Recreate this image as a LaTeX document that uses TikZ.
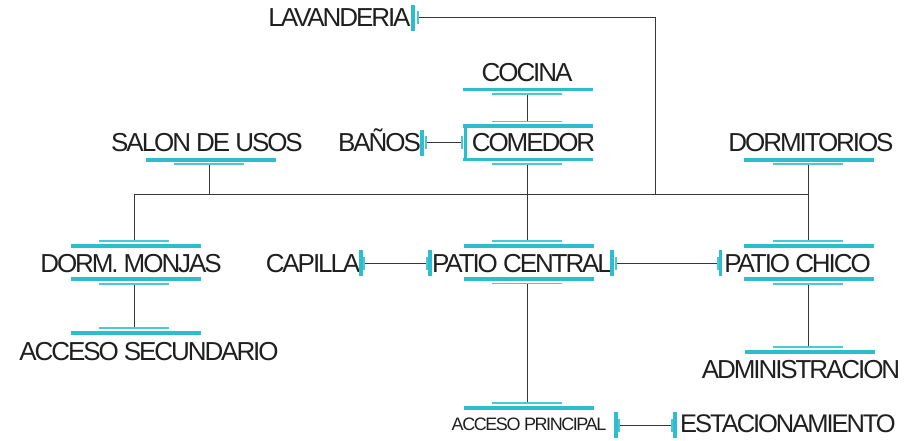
\documentclass[tikz,border=0pt]{standalone}
\usepackage{fontspec}
\setmainfont{Liberation Sans}
\newfontfamily\planfont{Liberation Sans}[LetterSpace=-8]
\usetikzlibrary{positioning}
\definecolor{planCyan}{RGB}{45,190,205}
\definecolor{planLine}{RGB}{55,55,55}
\tikzstyle{room} = [font=\planfont\fontsize{26}{26}\selectfont, text=black!88, inner sep=0, anchor=base]
\tikzstyle{wideBar} = [fill=planCyan, inner sep=0, minimum width=130pt, minimum height=3.3pt]
\tikzstyle{narrowBar} = [fill=planCyan!85, inner sep=0, minimum width=70pt, minimum height=1.5pt]
\tikzstyle{tallBar} = [fill=planCyan, inner sep=0, minimum width=3.3pt, minimum height=26pt]
\tikzstyle{shortBar} = [fill=planCyan!85, inner sep=0, minimum width=1.5pt, minimum height=13pt]
\tikzstyle{link} = [draw=planLine, line width=1pt]

\begin{document}
\begin{tikzpicture}[x=1pt, y=-1pt]
        \useasboundingbox[fill=white] (0,0) rectangle (911,441);
        % Rooms
        \node [room] (lav) at (339.5,27) {LAVANDERIA};
        \node [room] (coc) at (527,82) {COCINA};
        \node [room] (com) at (533.5,152) {COMEDOR};
        \node [room] (ban) at (379.5,152) {BAÑOS};
        \node [room] (sal) at (207,152) {SALON DE USOS};
        \node [room] (dor) at (811,152) {DORMITORIOS};
        \node [room] (dmj) at (131,272) {DORM. MONJAS};
        \node [room] (cap) at (313,272) {CAPILLA};
        \node [room] (pce) at (522,272) {PATIO CENTRAL};
        \node [room] (pch) at (797.5,272) {PATIO CHICO};
        \node [room] (acs) at (149,360) {ACCESO SECUNDARIO};
        \node [room] (adm) at (801,378) {ADMINISTRACION};
        \node [room, font=\planfont\fontsize{18}{18}\selectfont] (acp) at (529,430) {ACCESO PRINCIPAL};
        \node [room, font=\planfont\fontsize{25.5}{25.5}\selectfont] (est) at (788,432) {ESTACIONAMIENTO};

        % Bars
        \node [tallBar] (lavR) at (413,18.5) {};
        \node [shortBar] (lavr) at (418,17.5) {};
        \node [wideBar] (cocB) at (528,89.3) {};
        \node [narrowBar] (cocb) at (527,94) {};
        \node [narrowBar] (comt) at (527,121.7) {};
        \node [wideBar] (comT) at (528,126) {};
        \node [wideBar] (comB) at (528,159.5) {};
        \node [narrowBar] (comb) at (527,164) {};
        \node [tallBar, minimum height=34pt] (comL) at (465.5,142.7) {};
        \node [shortBar] (coml) at (462,143) {};
        \node [tallBar] (banR) at (422,143) {};
        \node [shortBar] (banr) at (426,143) {};
        \node [wideBar] (salB) at (211,160) {};
        \node [narrowBar] (salb) at (209,164) {};
        \node [wideBar] (dorB) at (809,160) {};
        \node [narrowBar] (dorb) at (808,164) {};
        \node [narrowBar] (dmt) at (134,241) {};
        \node [wideBar] (dmT) at (136,246) {};
        \node [wideBar] (dmB) at (136,279) {};
        \node [narrowBar] (dmb) at (134,284) {};
        \node [narrowBar] (ast) at (134,328) {};
        \node [wideBar] (asT) at (136,333) {};
        \node [narrowBar] (pct) at (527,241) {};
        \node [wideBar] (pcT) at (529,246) {};
        \node [wideBar] (pcB) at (529,279) {};
        \node [narrowBar] (pcb) at (527,283.5) {};
        \node [shortBar] (pcl) at (427,263) {};
        \node [tallBar] (pcL) at (430,262.5) {};
        \node [tallBar] (pcR) at (612,262.5) {};
        \node [shortBar] (pcr) at (616,263) {};
        \node [tallBar] (capR) at (361,262.5) {};
        \node [shortBar] (capr) at (364,263) {};
        \node [narrowBar] (pht) at (808,241) {};
        \node [wideBar] (phT) at (809,246) {};
        \node [wideBar] (phB) at (809,279) {};
        \node [narrowBar] (phb) at (808,284) {};
        \node [shortBar] (phl) at (718,263) {};
        \node [tallBar] (phL) at (720.5,262.5) {};
        \node [narrowBar] (adt) at (808,347) {};
        \node [wideBar] (adT) at (809.5,352) {};
        \node [narrowBar] (apt) at (527,403) {};
        \node [wideBar] (apT) at (529,408) {};
        \node [tallBar] (apR) at (616,425) {};
        \node [shortBar] (apr) at (619,425) {};
        \node [shortBar] (esl) at (672,425) {};
        \node [tallBar] (esL) at (675,425) {};

        % Bus
        \coordinate (busW) at (133,195);
        \coordinate (busE) at (808,195);
        \coordinate (lavDrop) at (655,195);

        % Lines
        \draw [link] (lavr.east) -| (lavDrop);
        \draw [link] (dmt.north) |- (busE);
        \draw [link] (salb.south) -- (salb.south |- busW);
        \draw [link] (cocb.south) -- (comt.north);
        \draw [link] (comb.south) -- (pct.north);
        \draw [link] (dorb.south) -- (pht.north);
        \draw [link] (dmb.south) -- (ast.north);
        \draw [link] (pcb.south) -- (apt.north);
        \draw [link] (phb.south) -- (adt.north);
        \draw [link] (banr.east) -- (coml.west);
        \draw [link] (capr.east) -- (pcl.west);
        \draw [link] (pcr.east) -- (phl.west);
        \draw [link] (apr.east) -- (esl.west);
    \end{tikzpicture}
\end{document}
